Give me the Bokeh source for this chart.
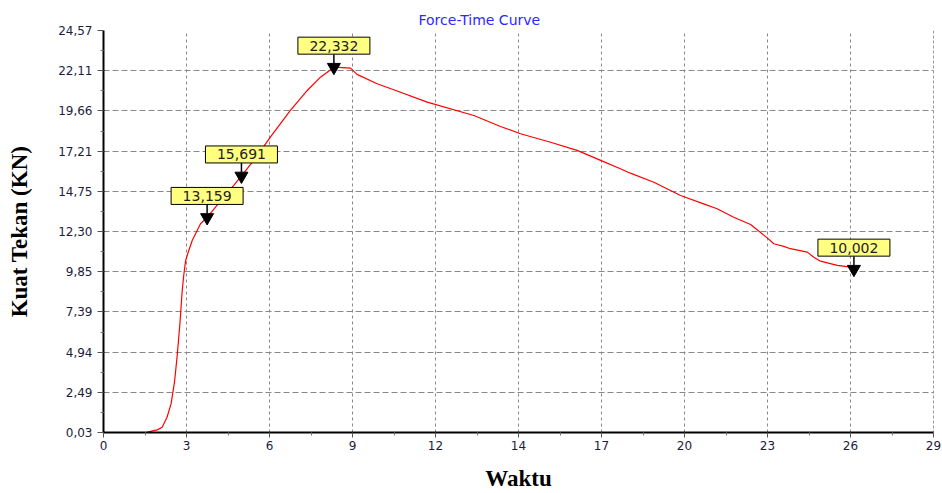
import numpy as np
from bokeh.plotting import figure
from bokeh.models import FixedTicker, Range1d, Span
from bokeh.core.properties import value
from bokeh.embed import file_html
from bokeh.resources import INLINE

# Force (kN) over time from the compression test
time = [1.53, 1.88, 2.05, 2.22, 2.36, 2.48, 2.57, 2.67, 2.75, 2.81, 2.87, 2.98,
        3.10, 3.39, 3.62, 4.10, 4.55, 4.82, 5.25, 5.83, 6.53, 7.12, 7.58, 8.05,
        8.35, 8.63, 8.86, 9.56, 10.14, 11.31, 12.94, 13.87, 14.57, 15.62, 16.55,
        17.37, 18.06, 18.41, 19.23, 20.16, 20.97, 21.44, 22.02, 22.61, 23.19,
        23.42, 23.77, 24.00, 24.59, 24.82, 25.05, 25.64, 26.10, 26.22]
force = [0.05, 0.19, 0.35, 0.96, 1.78, 3.10, 4.63, 6.67, 8.70, 9.72, 10.53, 11.14,
         11.75, 12.77, 13.159, 14.19, 15.11, 15.691, 16.64, 18.06, 19.69, 20.91, 21.72, 22.332,
         22.30, 22.27, 21.89, 21.32, 20.95, 20.20, 19.38, 18.71, 18.27, 17.75, 17.25,
         16.64, 16.13, 15.86, 15.31, 14.50, 13.99, 13.69, 13.17, 12.73, 11.91,
         11.55, 11.39, 11.25, 11.04, 10.73, 10.49, 10.23, 10.12, 10.002]

# Marked readings
mark_time = [3.62, 4.82, 8.05, 26.22]
mark_force = [13.159, 15.691, 22.332, 10.002]

# Axis ranges and tick labels
x_min, x_max = 0.0, 29.0
y_min, y_max = 0.03, 24.57
x_tick_labels = ["0", "3", "6", "9", "12", "14", "17", "20", "23", "26", "29"]
y_tick_labels = ["0,03", "2,49", "4,94", "7,39", "9,85", "12,30", "14,75",
                 "17,21", "19,66", "22,11", "24,57"]

W, H = 942, 493
BL, BR, BT, BB = 103, 9, 30, 61
frame_h = H - BT - BB

p = figure(width=W, height=H, output_backend="svg", toolbar_location=None,
           x_range=Range1d(x_min, x_max), y_range=Range1d(y_min, y_max),
           min_border_left=BL, min_border_right=BR, min_border_top=BT,
           min_border_bottom=BB, outline_line_color=None,
           background_fill_color="white", border_fill_color="white",
           title="Force-Time Curve")

p.title.text_font = "DejaVu Sans"
p.title.text_font_size = "14px"
p.title.text_font_style = "normal"
p.title.text_color = "#2a2aff"
p.title.align = "left"
p.title.offset = 315
p.title.standoff = 6

x_ticks = list(np.linspace(x_min, x_max, len(x_tick_labels)))
y_ticks = list(np.linspace(y_min, y_max, len(y_tick_labels)))
x_minor = [(a + b) / 2 for a, b in zip(x_ticks[:-1], x_ticks[1:])]
y_minor = [(a + b) / 2 for a, b in zip(y_ticks[:-1], y_ticks[1:])]

p.xaxis.ticker = FixedTicker(ticks=x_ticks, minor_ticks=x_minor)
p.yaxis.ticker = FixedTicker(ticks=y_ticks, minor_ticks=y_minor)
p.xaxis.major_label_overrides = {float(t): s for t, s in zip(x_ticks, x_tick_labels)}
p.yaxis.major_label_overrides = {float(t): s for t, s in zip(y_ticks, y_tick_labels)}

for ax in (p.xaxis[0], p.yaxis[0]):
    ax.axis_line_width = 2
    ax.axis_line_color = "black"
    ax.major_tick_in = 0
    ax.minor_tick_in = 0
    ax.major_tick_line_color = "#555555"
    ax.minor_tick_line_color = "#777777"
    ax.major_label_text_font = "DejaVu Sans"
    ax.major_label_text_font_size = "12px"
    ax.major_label_text_color = "#1c1c3c"
    ax.axis_label_text_font = "Liberation Serif"
    ax.axis_label_text_font_size = "23px"
    ax.axis_label_text_font_style = "bold"
    ax.axis_label_text_color = "black"

p.xaxis.axis_label = "Waktu"
p.yaxis.axis_label = "Kuat Tekan (KN)"
p.yaxis.major_tick_out = 6
p.yaxis.minor_tick_out = 3
p.yaxis.major_label_standoff = 5
p.yaxis.axis_label_standoff = 23
p.xaxis.major_tick_out = 5
p.xaxis.minor_tick_out = 3
p.xaxis.major_label_standoff = 3
p.xaxis.axis_label_standoff = 13

p.xgrid.grid_line_color = "#888888"
p.xgrid.grid_line_dash = "3 3"
p.ygrid.grid_line_color = "#888888"
p.ygrid.grid_line_dash = "6 3"

p.add_layout(Span(location=x_max, dimension="height", line_color="#333333",
                  line_dash="3 2", line_width=1))

p.line(time, force, line_color="#ff0000", line_width=1.2)

# Markers with value boxes above them
u_per_px = (y_max - y_min) / frame_h
stem_y0 = [f + 4 * u_per_px for f in mark_force]
stem_y1 = [f + 13 * u_per_px for f in mark_force]
box_y = [f + 21.5 * u_per_px for f in mark_force]
mark_text = [f"{f:.3f}".replace(".", ",") for f in mark_force]

p.segment(mark_time, stem_y0, mark_time, stem_y1, line_color="black", line_width=1.5)
p.scatter(mark_time, mark_force, marker="inverted_triangle", size=13,
          fill_color="black", line_color="black")
p.rect(mark_time, box_y, width=72, height=17, width_units="screen",
       height_units="screen", fill_color="#ffff80", line_color="black",
       line_width=1)
p.text(mark_time, box_y, text=mark_text, text_align="center",
       text_baseline="middle", text_font=value("DejaVu Sans"),
       text_font_size="14px", text_color="#222222")

open("out.html", "w").write(file_html(p, INLINE))
